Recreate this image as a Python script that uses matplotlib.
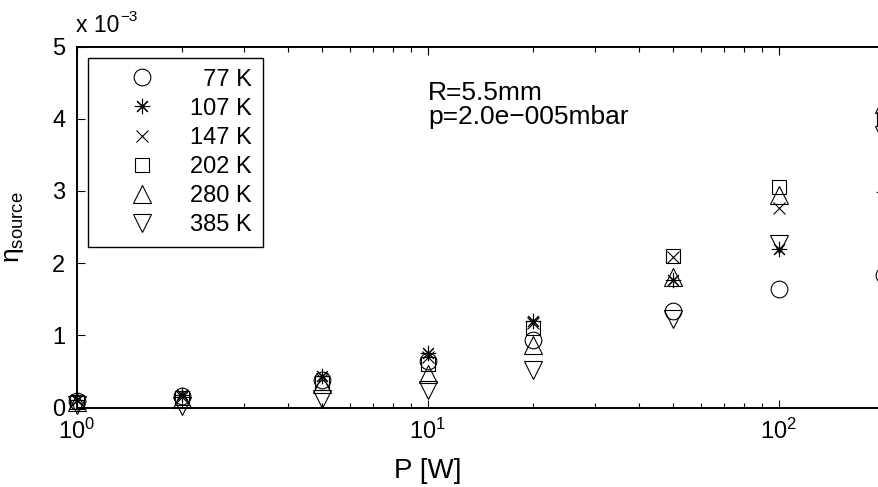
import matplotlib
matplotlib.use("Agg")
import matplotlib.pyplot as plt
from matplotlib.ticker import LogLocator, FixedLocator

plt.rcParams["font.family"] = ["Liberation Sans", "DejaVu Sans"]
plt.rcParams["mathtext.fontset"] = "custom"
plt.rcParams["mathtext.rm"] = "Liberation Sans"
plt.rcParams["mathtext.it"] = "Liberation Sans:italic"
plt.rcParams["mathtext.bf"] = "Liberation Sans:bold"

# heating power [W]
power = [1, 2, 5, 10, 20, 50, 100, 200]

# source efficiency (x 1e-3) per temperature
eta_77 = [0.09, 0.16, 0.38, 0.64, 0.94, 1.34, 1.64, 1.84]
eta_107 = [0.10, 0.17, 0.43, 0.75, 1.20, 1.77, 2.20, 2.98]
eta_147 = [0.10, 0.15, 0.40, 0.70, 1.17, 2.09, 2.77, 3.95]
eta_202 = [0.08, 0.13, 0.34, 0.60, 1.10, 2.10, 3.06, 4.00]
eta_280 = [0.07, 0.12, 0.32, 0.46, 0.87, 1.81, 2.94, 4.20]
eta_385 = [0.04, 0.02, 0.12, 0.24, 0.52, 1.23, 2.26, 3.78]

labels = ["\u200777 K", "107 K", "147 K", "202 K", "280 K", "385 K"]
series = [eta_77, eta_107, eta_147, eta_202, eta_280, eta_385]
markers = ["o", (8, 2, 0), "x", "s", "^", "v"]
msizes = [12, 11, 8, 10, 13, 13]

fig = plt.figure(figsize=(8.79, 4.87), dpi=100)
W, H = 879, 487
# axes runs past the right edge of the figure
ax = fig.add_axes([76.5 / W, 79.5 / H, 1053 / W, 361 / H])

for vals, lab, m, ms in zip(series, labels, markers, msizes):
    ax.plot(power, vals, linestyle="none", marker=m, markersize=ms,
            markerfacecolor="none", markeredgecolor="black",
            markeredgewidth=0.8, color="black", label=lab, clip_on=False)

ax.set_xscale("log")
ax.set_xlim(1, 1000)
ax.set_ylim(0, 5)
ax.xaxis.set_major_locator(FixedLocator([1, 10, 100]))
ax.xaxis.set_minor_locator(LogLocator(base=10, subs=range(2, 10)))
ax.set_xticklabels([r"$10^{0}$", r"$10^{1}$", r"$10^{2}$"])
ax.set_yticks([0, 1, 2, 3, 4, 5])

ax.tick_params(which="both", direction="in", top=True, right=True,
               labelsize=17, width=0.8, color="black")
ax.tick_params(which="major", length=6)
ax.tick_params(which="minor", length=3.5)
ax.tick_params(axis="x", pad=8)
ax.tick_params(axis="y", pad=8)
for sp in ax.spines.values():
    sp.set_linewidth(1.4)

ax.set_xlabel("P [W]", fontsize=20)
ax.xaxis.set_label_coords((428 - 76.5) / 1053, -0.14)
ax.set_ylabel("η$_{\\mathrm{source}}$", fontsize=19)
ax.yaxis.set_label_coords(-50 / 1053, 0.5)

# scale factor of the y axis
fig.text(76 / W, 1 - 32 / H, "x 10", fontsize=16.5, ha="left",
         va="baseline")
fig.text(120 / W, 1 - 21 / H, "\u22123", fontsize=11, ha="left",
         va="baseline")

fig.text(428 / W, 1 - 100 / H, "R=5.5mm", fontsize=19, va="baseline")
fig.text(428 / W, 1 - 124 / H, "p=2.0e\u2212005mbar", fontsize=19,
         va="baseline")

leg = ax.legend(loc="upper left", bbox_to_anchor=(88 / W, 1 - 58 / H),
                bbox_transform=fig.transFigure, borderaxespad=0,
                fontsize=17, numpoints=1, fancybox=False, framealpha=1,
                edgecolor="black", borderpad=0.45, handlelength=3.7,
                handletextpad=0.17, labelspacing=0.3)
leg.get_frame().set_linewidth(1.0)

fig.savefig("out.png", dpi=100)
